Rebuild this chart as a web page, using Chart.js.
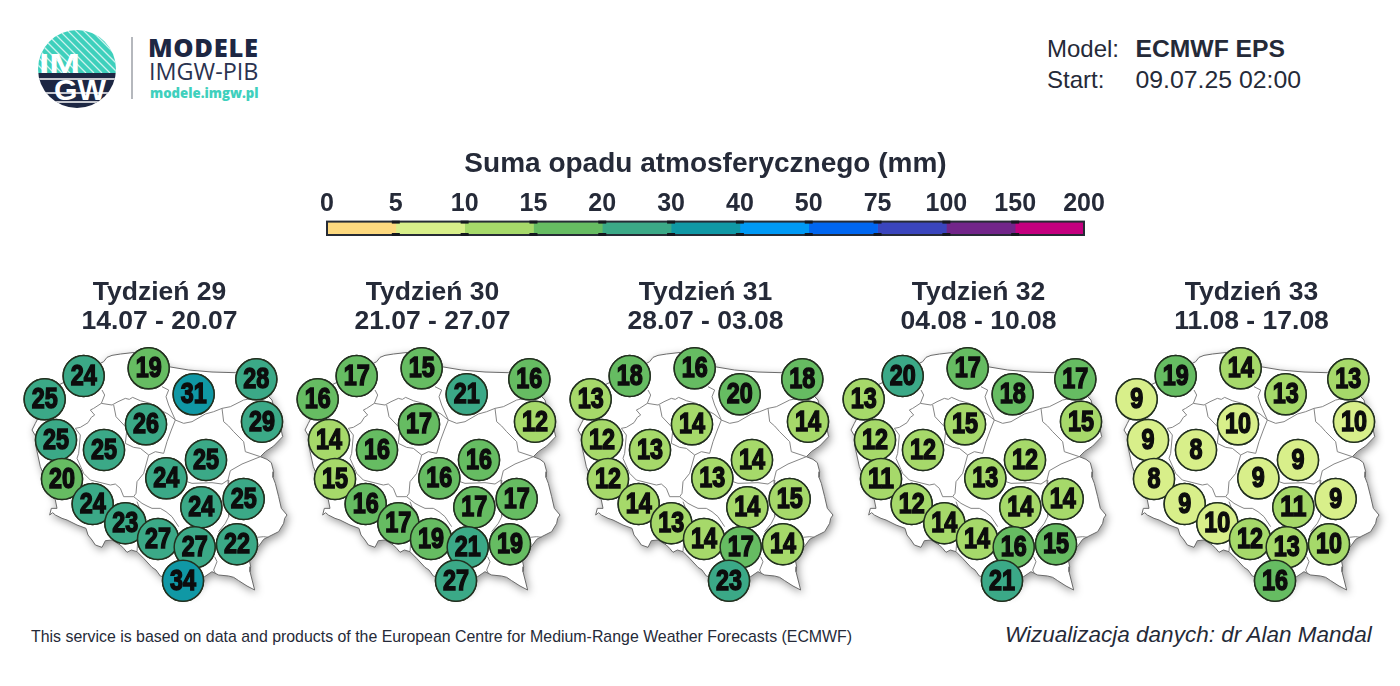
<!DOCTYPE html>
<html lang="pl">
<head>
<meta charset="utf-8">
<title>Suma opadu atmosferycznego</title>
<script src="https://cdn.jsdelivr.net/npm/chart.js@4"></script>
<style>
  html, body { margin: 0; padding: 0; background: #fff; overflow: hidden; }
  #page { position: relative; width: 1400px; height: 686px; font-family: "Liberation Sans", Arial, sans-serif; color: #252a38; }
  #page > div, #page > svg, .wrap { position: absolute; white-space: nowrap; }
  .wrap canvas { display: block; }
</style>
</head>
<body>
<div id="page">
  <svg style="left:36px;top:28px" width="82" height="82" viewBox="0 0 82 82">
    <defs><clipPath id="c"><circle cx="41" cy="41" r="39"/></clipPath></defs>
    <g clip-path="url(#c)">
      <rect x="0" y="0" width="82" height="45" fill="#3fd0bd"/>
      <g stroke="#fff" stroke-width="1.3" opacity=".75">
        <path d="M-40 -5L10 45M-32 -5L18 45M-24 -5L26 45M-16 -5L34 45M-8 -5L42 45M0 -5L50 45M8 -5L58 45M16 -5L66 45M24 -5L74 45M32 -5L82 45M40 -5L90 45M48 -5L98 45M56 -5L106 45"/>
      </g>
      <rect x="0" y="45" width="82" height="37" fill="#1d2743"/>
      <g stroke="#fff" stroke-width="1.5"><path d="M0 51H82M0 65H82M0 74H82"/></g>
      <text x="3" y="45" font-family="Liberation Sans" font-weight="700" font-size="28" fill="#fff" textLength="41" lengthAdjust="spacingAndGlyphs">IM</text>
      <text x="18" y="72" font-family="Liberation Sans" font-weight="700" font-size="30" fill="#fff" textLength="52" lengthAdjust="spacingAndGlyphs">GW</text>
    </g>
  </svg>
  <svg style="left:131px;top:37px" width="2" height="62"><rect width="2" height="62" fill="#b5b8bd"/></svg>
  <div style="left:148px;top:32px;font:800 25.5px 'Open Sans';letter-spacing:.7px;color:#1d2743;line-height:30px">MODELE</div>
  <div style="left:149px;top:56px;font:400 23.4px 'Open Sans';color:#2a3350;line-height:30px">IMGW-PIB</div>
  <div style="left:150px;top:83px;font:800 13.2px 'Open Sans';color:#3fd0bd;line-height:20px">modele.imgw.pl</div>

  <div style="left:1047px;top:34px;font-size:24px;line-height:30px">Model:</div>
  <div style="left:1135.5px;top:34px;font-size:24.7px;line-height:30px;font-weight:700">ECMWF EPS</div>
  <div style="left:1047px;top:65px;font-size:24px;line-height:30px">Start:</div>
  <div style="left:1135.5px;top:65px;font-size:24.8px;line-height:30px">09.07.25 02:00</div>

  <div class="wrap" style="left:300px;top:145px;width:811px;height:95px"><canvas id="scaleBar"></canvas></div>
  <div class="wrap" style="left:12px;top:275px;width:295px;height:335px"><canvas id="week0"></canvas></div>
  <div class="wrap" style="left:285px;top:275px;width:295px;height:335px"><canvas id="week1"></canvas></div>
  <div class="wrap" style="left:558px;top:275px;width:295px;height:335px"><canvas id="week2"></canvas></div>
  <div class="wrap" style="left:831px;top:275px;width:295px;height:335px"><canvas id="week3"></canvas></div>
  <div class="wrap" style="left:1104px;top:275px;width:295px;height:335px"><canvas id="week4"></canvas></div>

  <div style="left:31px;top:627px;font-size:15.9px;line-height:20px">This service is based on data and products of the European Centre for Medium-Range Weather Forecasts (ECMWF)</div>
  <div style="left:1005px;top:620px;font-size:22.5px;line-height:30px;font-style:italic">Wizualizacja danych: dr Alan Mandal</div>
</div>

<script>
// colour scale
const binEdges = [0, 5, 10, 15, 20, 30, 40, 50, 75, 100, 150, 200];
const binColors = ["#fdd97f", "#d8ef8a", "#a6d96a", "#66bc62", "#3ba987", "#1098a5", "#0099f5", "#0066f0", "#3a45bd", "#72258a", "#c4007f"];

// weeks, rainfall per area (mm), same area order in every list
const weekTitles = ["Tydzień 29", "Tydzień 30", "Tydzień 31", "Tydzień 32", "Tydzień 33"];
const weekDates = ["14.07 - 20.07", "21.07 - 27.07", "28.07 - 03.08", "04.08 - 10.08", "11.08 - 17.08"];
const week29 = [24, 25, 18.9, 31, 28, 29, 26, 25, 25, 25, 24, 19.6, 24, 23, 24, 25, 27, 27, 22, 34];
const week30 = [17, 16, 15.3, 21, 16, 12, 17, 14, 16, 16, 16, 14.8, 16, 17, 17, 17, 19, 21, 19, 27];
const week31 = [18, 13, 16, 19.7, 18, 14, 14, 12, 13, 14, 13, 12, 14, 13, 14, 14.9, 14, 17, 14, 23];
const week32 = [20.3, 13, 17, 18, 17, 14.9, 14.8, 12, 12, 12, 13, 11, 12, 14, 14, 14, 14, 16, 15.3, 21];
const week33 = [19, 9, 14, 13, 13, 9.7, 9.7, 9, 8, 9, 9, 8, 9, 9.7, 11, 9, 12, 13, 10.3, 16];
const allWeeks = [week29, week30, week31, week32, week33];

// area centres in map units
const areaX = [215, 98, 410, 545, 733, 750, 402, 132, 276, 582, 463, 150, 242, 340, 568, 695, 438, 548, 675, 513];
const areaY = [108, 178, 85, 163, 118, 245, 253, 300, 330, 360, 415, 417, 492, 550, 502, 477, 597, 622, 613, 722];

// country outline and inner borders in map units
const outline = [[70,170],[110,150],[160,125],[215,95],[275,65],[285,52],[300,46],[325,42],[360,38],[385,36],[430,55],[470,80],[530,90],[600,96],[670,98],[720,100],[770,170],[780,180],[785,200],[800,235],[812,290],[785,318],[760,335],[745,350],[765,358],[778,368],[785,395],[783,412],[790,430],[800,470],[808,505],[825,525],[818,535],[815,550],[800,575],[770,590],[755,598],[745,612],[735,625],[712,660],[716,680],[714,695],[728,750],[705,738],[680,722],[665,712],[650,708],[620,705],[600,695],[575,712],[545,750],[500,760],[470,715],[445,708],[432,690],[420,682],[395,655],[375,635],[358,630],[345,637],[335,625],[325,615],[300,600],[280,602],[270,622],[250,615],[240,600],[228,585],[222,565],[195,555],[165,540],[150,535],[130,525],[122,518],[113,525],[118,505],[135,505],[130,480],[110,440],[85,380],[72,320],[72,290],[60,270],[70,250],[78,235],[75,205],[70,170]];
const borders = [
  [[270,150],[278,165],[268,190],[245,205],[235,210],[248,225],[238,232],[228,248],[205,262],[190,265],[205,285],[200,340],[195,355],[215,400],[235,420],[295,435],[310,432],[325,445],[335,470],[365,470]],
  [[268,190],[300,195],[318,185],[340,175],[352,178],[362,172],[385,182],[415,190],[445,210],[468,222],[490,240]],
  [[305,195],[312,230],[345,265],[340,310],[365,322],[385,325],[410,345],[430,335],[455,340],[465,305],[478,270],[490,240],[515,250],[540,245],[580,222],[605,215],[630,205],[655,200],[695,180],[720,175]],
  [[450,140],[470,150],[462,170],[470,195],[490,240]],
  [[630,205],[635,245],[650,258],[665,275],[695,305],[700,335],[745,350],[690,372],[655,392],[648,420],[630,432],[600,428],[540,430],[525,425]],
  [[410,345],[395,400],[375,425],[372,460],[365,470],[390,490],[405,498],[420,505],[445,505],[462,515],[480,530],[500,560]],
  [[375,485],[385,510],[380,560],[375,635]],
  [[648,420],[650,530],[640,550],[620,575]],
  [[735,592],[755,590],[770,592]],
  [[608,650],[615,665],[605,690],[610,700]]
];

function colorFor(v) {
  for (let i = 0; i < binColors.length; i++) {
    if (v < binEdges[i + 1]) return binColors[i];
  }
  return binColors[binColors.length - 1];
}

// white land with a soft shadow, under the border lines
const landPlugin = {
  id: "land",
  beforeDatasetsDraw(chart) {
    const ctx = chart.ctx, sx = chart.scales.x, sy = chart.scales.y;
    ctx.save();
    ctx.shadowColor = "rgba(0,0,0,0.42)";
    ctx.shadowBlur = 8;
    ctx.shadowOffsetX = 2;
    ctx.shadowOffsetY = 3;
    ctx.fillStyle = "#fff";
    ctx.beginPath();
    outline.forEach((p, i) => {
      if (i == 0) ctx.moveTo(sx.getPixelForValue(p[0]), sy.getPixelForValue(p[1]));
      else ctx.lineTo(sx.getPixelForValue(p[0]), sy.getPixelForValue(p[1]));
    });
    ctx.closePath();
    ctx.fill();
    ctx.restore();
  }
};

// redraw circles one by one so that each number sits under the next circle
const numberPlugin = {
  id: "numbers",
  afterDatasetsDraw(chart) {
    const ctx = chart.ctx;
    const last = chart.data.datasets.length - 1;
    const meta = chart.getDatasetMeta(last);
    const values = chart.data.datasets[last].data;
    ctx.save();
    ctx.textAlign = "center";
    ctx.textBaseline = "middle";
    ctx.font = "700 29px 'Liberation Sans'";
    ctx.lineWidth = 0.5;
    meta.data.forEach((el, i) => {
      el.draw(ctx);
      const txt = String(Math.round(values[i].v));
      ctx.fillStyle = "#0d0d0d";
      ctx.strokeStyle = "#0d0d0d";
      ctx.fillText(txt, el.x, el.y + 1, txt.length * 13);
      ctx.strokeText(txt, el.x, el.y + 1, txt.length * 13);
    });
    ctx.restore();
  }
};

allWeeks.forEach(function (values, w) {
  const datasets = [];
  datasets.push({
    type: "line",
    data: outline.map(p => ({ x: p[0], y: p[1] })),
    borderColor: "#6a6a6a",
    borderWidth: 1,
    pointRadius: 0,
    tension: 0
  });
  borders.forEach(function (b) {
    datasets.push({
      type: "line",
      data: b.map(p => ({ x: p[0], y: p[1] })),
      borderColor: "#858585",
      borderWidth: 1,
      pointRadius: 0,
      tension: 0
    });
  });
  datasets.push({
    type: "scatter",
    data: values.map((v, i) => ({ x: areaX[i], y: areaY[i], v: v })),
    backgroundColor: values.map(colorFor),
    borderColor: "#22301f",
    borderWidth: 1.5,
    pointRadius: 20.5,
    clip: false
  });
  new Chart(document.getElementById("week" + w), {
    type: "scatter",
    data: { datasets: datasets },
    plugins: [landPlugin, numberPlugin],
    options: {
      responsive: true,
      maintainAspectRatio: false,
      animation: false,
      events: [],
      layout: { padding: 0, autoPadding: false },
      scales: {
        x: { type: "linear", display: false, min: 0, max: 885 },
        y: { type: "linear", display: false, min: 0, max: 810, reverse: true }
      },
      plugins: {
        legend: { display: false },
        tooltip: { enabled: false },
        title: {
          display: true,
          text: [weekTitles[w], weekDates[w]],
          color: "#252a38",
          font: { family: "Liberation Sans", weight: "700", size: 26.5, lineHeight: 1.095 },
          padding: { top: 3, bottom: 4 }
        }
      }
    }
  });
});

// colour bar: one stacked bar with a segment per bin
const notchPlugin = {
  id: "notches",
  afterDatasetsDraw(chart) {
    const ctx = chart.ctx, area = chart.chartArea, sx = chart.scales.x;
    ctx.save();
    ctx.strokeStyle = "#262b35";
    ctx.lineWidth = 2;
    ctx.strokeRect(area.left, area.top, area.right - area.left, area.bottom - area.top);
    ctx.fillStyle = "#15181f";
    for (let i = 1; i < binColors.length; i++) {
      const x = sx.getPixelForValue(i);
      ctx.fillRect(x - 4, area.top - 1, 8, 3);
      ctx.fillRect(x - 4, area.bottom - 2, 8, 3);
    }
    ctx.restore();
  }
};

new Chart(document.getElementById("scaleBar"), {
  type: "bar",
  data: {
    labels: ["mm"],
    datasets: binColors.map(c => ({ data: [1], backgroundColor: c, borderWidth: 0, barPercentage: 1, categoryPercentage: 1 }))
  },
  plugins: [notchPlugin],
  options: {
    indexAxis: "y",
    responsive: true,
    maintainAspectRatio: false,
    animation: false,
    events: [],
    layout: { padding: { left: 27, right: 27, bottom: 5 }, autoPadding: false },
    scales: {
      x: {
        type: "linear",
        position: "top",
        stacked: true,
        min: 0,
        max: binColors.length,
        grid: { display: false, drawTicks: false },
        border: { display: false },
        ticks: {
          stepSize: 1,
          autoSkip: false,
          maxRotation: 0,
          padding: 2,
          color: "#252a38",
          font: { family: "Liberation Sans", weight: "700", size: 25 },
          callback: v => binEdges[v]
        }
      },
      y: { stacked: true, display: false }
    },
    plugins: {
      legend: { display: false },
      tooltip: { enabled: false },
      title: {
        display: true,
        text: "Suma opadu atmosferycznego (mm)",
        color: "#252a38",
        font: { family: "Liberation Sans", weight: "700", size: 28 },
        padding: { top: 2, bottom: 7 }
      }
    }
  }
});
</script>
</body>
</html>
